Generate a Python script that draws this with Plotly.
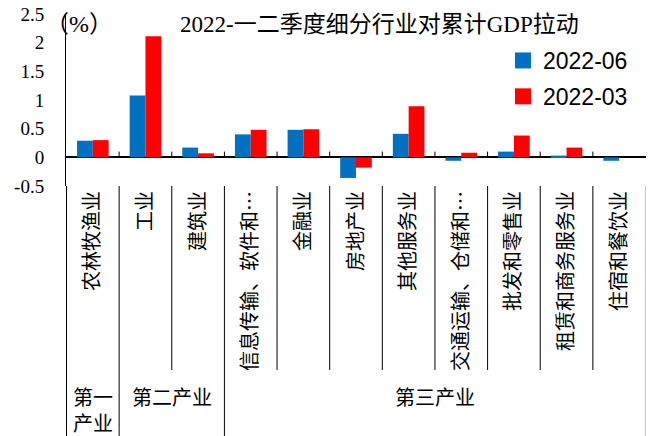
import plotly.graph_objects as go

categories = ["农林牧渔业", "工业", "建筑业", "信息传输、软件和…", "金融业", "房地产业",
              "其他服务业", "交通运输、仓储和…", "批发和零售业", "租赁和商务服务业", "住宿和餐饮业"]
jun = [0.29, 1.08, 0.17, 0.40, 0.48, -0.36, 0.41, -0.06, 0.10, 0.03, -0.06]
mar = [0.30, 2.11, 0.07, 0.48, 0.49, -0.18, 0.89, 0.08, 0.38, 0.17, 0.00]
series_names = ["2022-06", "2022-03"]
colors = ["#0070C0", "#FF0000"]
yticks = [-0.5, 0, 0.5, 1, 1.5, 2, 2.5]
ytick_text = ["-0.5", "0", "0.5", "1", "1.5", "2", "2.5"]
groups = ["第一<br>产业", "第二产业", "第三产业"]
group_spans = [(0, 0), (1, 2), (3, 10)]
title_text = "2022-一二季度细分行业对累计GDP拉动"
unit_text = "（%）"

W, H = 660, 436
PLOT_L, PLOT_R, PLOT_T, PLOT_B = 66, 646, 14, 186
ML, MR, MT, MB = PLOT_L, W - PLOT_R, PLOT_T, H - PLOT_B
PH = PLOT_B - PLOT_T
PW = PLOT_R - PLOT_L


def py(p):
    return (PLOT_B - p) / PH


def pxx(p):
    return (p - PLOT_L) / PW


serif = "Liberation Serif, Noto Sans CJK SC, serif"
cjk = "Noto Sans CJK SC, sans-serif"

fig = go.Figure()
for name, vals, col in zip(series_names, [jun, mar], colors):
    fig.add_bar(x=categories, y=vals, name=name, marker_color=col,
                marker_line_width=0, showlegend=False)
for name, col in zip(series_names, colors):
    fig.add_scatter(x=[None], y=[None], mode="markers", name=name, legendgroup=name,
                    marker=dict(symbol="square", size=16, color=col))

shapes = []
n = len(categories)
group_bounds = set()
for s, e in group_spans:
    group_bounds.add(s - 0.5)
    group_bounds.add(e + 0.5)
for i in range(n + 1):
    b = i - 0.5
    if 0 < i < n:
        shapes.append(dict(type="line", xref="x", yref="y", x0=b, x1=b, y0=0, y1=0.1,
                           line=dict(color="black", width=1)))
    if i == n:
        shapes.append(dict(type="line", xref="x", yref="paper", x0=b, x1=b, y0=0, y1=py(H),
                           line=dict(color="#C8C8C8", width=1)))
    elif b in group_bounds:
        shapes.append(dict(type="line", xref="x", yref="paper", x0=b, x1=b, y0=0, y1=py(H),
                           line=dict(color="black", width=1)))
    else:
        shapes.append(dict(type="line", xref="x", yref="paper", x0=b, x1=b, y0=0, y1=py(370),
                           line=dict(color="black", width=1)))

annotations = [
    dict(text=title_text, xref="paper", yref="paper", x=pxx(379), y=py(24),
         xanchor="center", yanchor="middle", showarrow=False,
         font=dict(family=serif, size=23, color="black")),
    dict(text=unit_text, xref="paper", yref="paper", x=pxx(79), y=py(24),
         xanchor="center", yanchor="middle", showarrow=False,
         font=dict(family=serif, size=24, color="black")),
]
group_y = [411, 398, 398]
for g, (s, e), gy in zip(groups, group_spans, group_y):
    annotations.append(dict(text=g, xref="x", yref="paper", x=(s + e) / 2, y=py(gy),
                            xanchor="center", yanchor="middle", showarrow=False,
                            font=dict(family=serif, size=20, color="black")))

fig.update_layout(
    width=W, height=H,
    margin=dict(l=ML, r=MR, t=MT, b=MB, autoexpand=False),
    paper_bgcolor="white", plot_bgcolor="white",
    barmode="group", bargap=0.4, bargroupgap=0,
    showlegend=True,
    legend=dict(x=pxx(503), y=py(39), xanchor="left", yanchor="top",
                font=dict(family="Liberation Sans, Arial, sans-serif", size=23, color="black"),
                bgcolor="rgba(0,0,0,0)", tracegroupgap=3),
    shapes=shapes,
    annotations=annotations,
    font=dict(family=serif, color="black"),
)
fig.update_xaxes(type="category", showgrid=False, showline=False, ticks="",
                 tickangle=-90, automargin=False,
                 tickfont=dict(family=cjk, size=20, color="black"))
fig.update_yaxes(range=[-0.5, 2.5], tickvals=yticks, ticktext=ytick_text,
                 showgrid=False, showline=True, linecolor="black", linewidth=1,
                 zeroline=True, zerolinecolor="black", zerolinewidth=1.5,
                 ticks="outside", ticklen=17, tickcolor="rgba(0,0,0,0)", automargin=False,
                 tickfont=dict(family="Liberation Serif, serif", size=19, color="black"))

fig.write_html("out.html", config={"displayModeBar": False},
               post_script="document.body.style.margin='0';")
